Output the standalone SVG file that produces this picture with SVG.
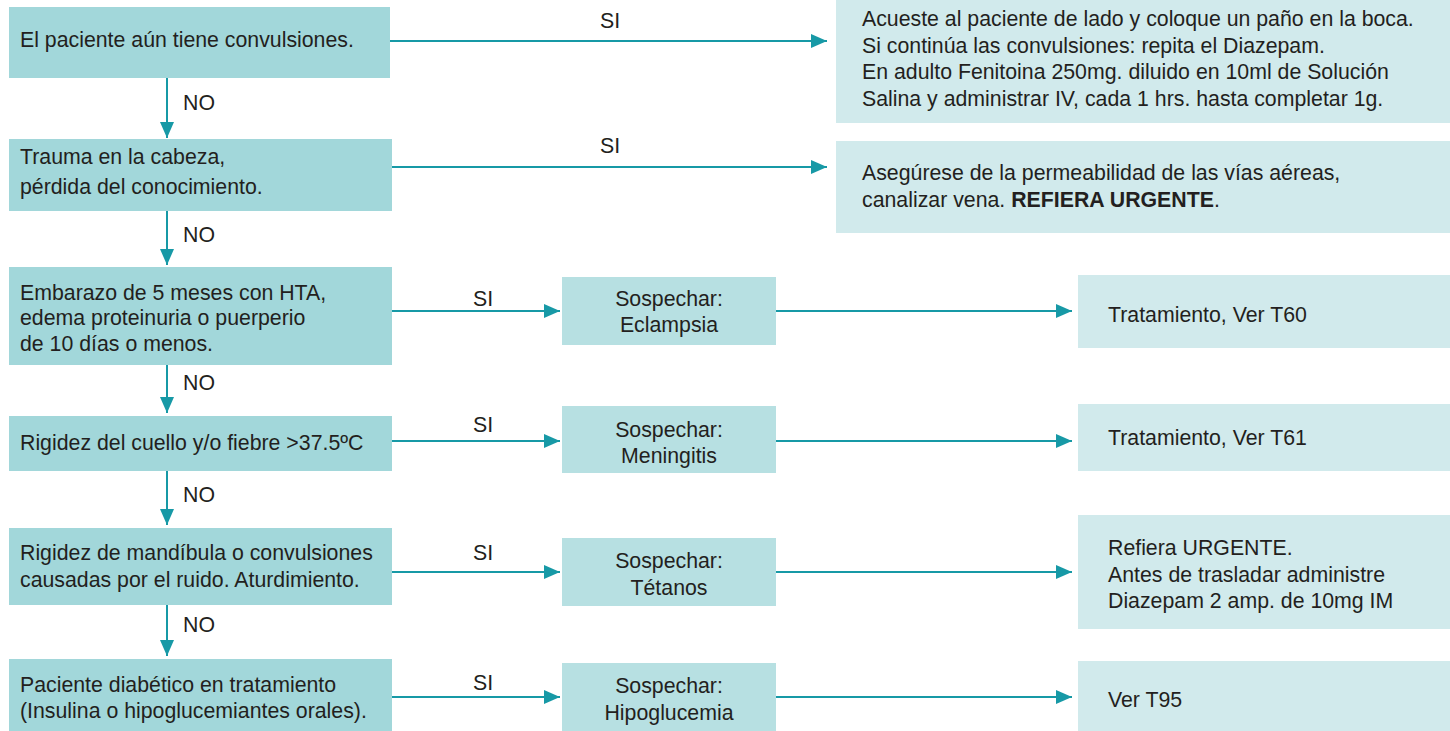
<svg xmlns="http://www.w3.org/2000/svg" width="1450" height="731" viewBox="0 0 1450 731">
<style>
text{font-family:"Liberation Sans",Arial,sans-serif;font-size:21.3px;fill:#231f20}
.q{fill:#a2d7da}
.s{fill:#b7e0e2}
.r{fill:#d1eaec}
.c{text-anchor:middle}
.ln{stroke:#1799a6;stroke-width:2;fill:none;marker-end:url(#ah)}
</style>
<defs>
<marker id="ah" markerUnits="userSpaceOnUse" markerWidth="18" markerHeight="14" refX="16" refY="7" orient="auto">
<path d="M0,0 L16,7 L0,14 Z" fill="#1799a6"/>
</marker>
</defs>
<rect width="1450" height="731" fill="#ffffff"/>
<g id="connectors">
<path class="ln" d="M167,78 V138"/>
<path class="ln" d="M167,211 V265"/>
<path class="ln" d="M167,365 V413"/>
<path class="ln" d="M167,471 V525"/>
<path class="ln" d="M167,605 V656"/>
<path class="ln" d="M390,41 H827"/>
<path class="ln" d="M392,167 H827"/>
<path class="ln" d="M392,311 H560"/>
<path class="ln" d="M776,311 H1072"/>
<path class="ln" d="M392,441 H560"/>
<path class="ln" d="M776,441 H1072"/>
<path class="ln" d="M392,572 H560"/>
<path class="ln" d="M776,572 H1072"/>
<path class="ln" d="M392,697 H560"/>
<path class="ln" d="M776,697 H1072"/>
<text x="183" y="110">NO</text>
<text x="183" y="242">NO</text>
<text x="183" y="390">NO</text>
<text x="183" y="502">NO</text>
<text x="183" y="632">NO</text>
<text x="600" y="28">SI</text>
<text x="600" y="153">SI</text>
<text x="473" y="306">SI</text>
<text x="473" y="432">SI</text>
<text x="473" y="560">SI</text>
<text x="473" y="690">SI</text>
</g>
<g id="q1"><rect class="q" x="9" y="7" width="381" height="71"/><text x="20" y="47">El paciente aún tiene convulsiones.</text></g>
<g id="q2"><rect class="q" x="9" y="139" width="383" height="72"/><text x="20" y="164">Trauma en la cabeza,</text><text x="20" y="194">pérdida del conocimiento.</text></g>
<g id="q3"><rect class="q" x="9" y="267" width="383" height="98"/><text x="20" y="300">Embarazo de 5 meses con HTA,</text><text x="20" y="325">edema proteinuria o puerperio</text><text x="20" y="351">de 10 días o menos.</text></g>
<g id="q4"><rect class="q" x="9" y="416" width="383" height="55"/><text x="20" y="450">Rigidez del cuello y/o fiebre &gt;37.5ºC</text></g>
<g id="q5"><rect class="q" x="9" y="528" width="383" height="77"/><text x="20" y="560">Rigidez de mandíbula o convulsiones</text><text x="20" y="587">causadas por el ruido. Aturdimiento.</text></g>
<g id="q6"><rect class="q" x="9" y="659" width="383" height="72"/><text x="20" y="692">Paciente diabético en tratamiento</text><text x="20" y="718">(Insulina o hipoglucemiantes orales).</text></g>
<g id="r1"><rect class="r" x="836" y="-10" width="614" height="133"/><text x="862" y="26">Acueste al paciente de lado y coloque un paño en la boca.</text><text x="862" y="53">Si continúa las convulsiones: repita el Diazepam.</text><text x="862" y="79">En adulto Fenitoina 250mg. diluido en 10ml de Solución</text><text x="862" y="106">Salina y administrar IV, cada 1 hrs. hasta completar 1g.</text></g>
<g id="r2"><rect class="r" x="836" y="141" width="614" height="92"/><text x="862" y="180">Asegúrese de la permeabilidad de las vías aéreas,</text><text x="862" y="207">canalizar vena. <tspan font-weight="bold">REFIERA URGENTE</tspan>.</text></g>
<g id="s3"><rect class="s" x="562" y="277" width="214" height="68"/><text class="c" x="669" y="306">Sospechar:</text><text class="c" x="669" y="332">Eclampsia</text></g>
<g id="s4"><rect class="s" x="562" y="406" width="214" height="67"/><text class="c" x="669" y="437">Sospechar:</text><text class="c" x="669" y="463">Meningitis</text></g>
<g id="s5"><rect class="s" x="562" y="538" width="214" height="68"/><text class="c" x="669" y="568">Sospechar:</text><text class="c" x="669" y="595">Tétanos</text></g>
<g id="s6"><rect class="s" x="562" y="663" width="214" height="68"/><text class="c" x="669" y="693">Sospechar:</text><text class="c" x="669" y="720">Hipoglucemia</text></g>
<g id="t3"><rect class="r" x="1078" y="275" width="372" height="73"/><text x="1108" y="322">Tratamiento, Ver T60</text></g>
<g id="t4"><rect class="r" x="1078" y="404" width="372" height="67"/><text x="1108" y="445">Tratamiento, Ver T61</text></g>
<g id="t5"><rect class="r" x="1078" y="515" width="372" height="114"/><text x="1108" y="555">Refiera URGENTE.</text><text x="1108" y="582">Antes de trasladar administre</text><text x="1108" y="608">Diazepam 2 amp. de 10mg IM</text></g>
<g id="t6"><rect class="r" x="1078" y="661" width="372" height="70"/><text x="1108" y="707">Ver T95</text></g>
</svg>
